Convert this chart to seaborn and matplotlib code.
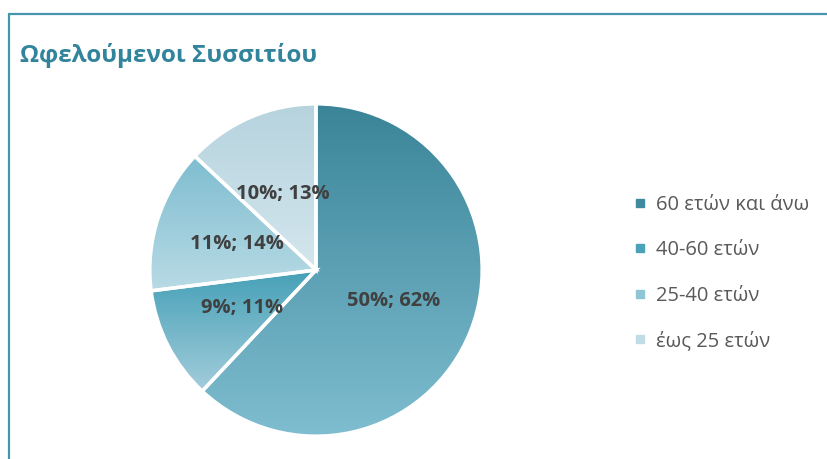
import numpy as np
import matplotlib
matplotlib.use("Agg")
import matplotlib.pyplot as plt
from matplotlib.colors import LinearSegmentedColormap
from matplotlib.lines import Line2D
import seaborn as sns

# data
categories = ["60 ετών και άνω", "40-60 ετών", "25-40 ετών", "έως 25 ετών"]
shares = [62, 11, 14, 13]          # slice share (second number in label)
first_pct = [50, 9, 11, 10]        # first number in label
title = "Ωφελούμενοι Συσσιτίου"

# top / bottom colours of each slice gradient
grad_top = ["#3a8498", "#45a0b7", "#7ebdd0", "#b6d3de"]
grad_bottom = ["#7fbdd0", "#a3cddb", "#b9dbe5", "#d3e6ed"]
legend_colors = ["#3f8a9e", "#4aa2b9", "#8fc6d6", "#c2dce6"]

sns.set_theme(style="white")
plt.rcParams["font.family"] = ["Open Sans", "DejaVu Sans"]

fig = plt.figure(figsize=(8.27, 4.59), dpi=100)
W, H = 827, 459

# pie axes: centre (316, 270), radius ~166 px
cx, cy, r = 316, 270, 167
ax = fig.add_axes([(cx - r) / W, (H - cy - r) / H, 2 * r / W, 2 * r / H])

wedges, _, autotexts = ax.pie(
    shares, startangle=90, counterclock=False, autopct="", pctdistance=0.5,
    wedgeprops=dict(edgecolor="white", linewidth=2.5),
)

# vertical gradient inside each wedge
grad = np.linspace(0, 1, 256).reshape(-1, 1)
for w, top, bot in zip(wedges, grad_top, grad_bottom):
    w.set_facecolor("none")
    ext = w.get_path().get_extents()
    cmap = LinearSegmentedColormap.from_list("g", [bot, top])
    im = ax.imshow(grad, cmap=cmap, origin="lower", aspect="auto",
                   extent=[ext.x0, ext.x1, ext.y0, ext.y1], zorder=0.5)
    im.set_clip_path(w)
    w.set_zorder(1)
ax.set_xlim(-1.005, 1.005)
ax.set_ylim(-1.005, 1.005)
ax.set_aspect("equal")
ax.axis("off")

for t, a, b in zip(autotexts, first_pct, shares):
    t.set_text(f"{a}%; {b}%")
    t.set_fontsize(14.5)
    t.set_fontweight("bold")
    t.set_color("#404040")
    t.set_zorder(3)

# legend
handles = [Line2D([], [], marker="s", linestyle="", markersize=6,
                  markerfacecolor=c, markeredgecolor=c) for c in legend_colors]
fig.legend(handles, categories, loc="center left",
           bbox_to_anchor=(624 / W, 1 - 273 / H), frameon=False,
           fontsize=14.5, labelcolor="#595959", handlelength=0.8,
           handletextpad=0.4, labelspacing=1.25, borderaxespad=0)

# title
fig.text(20 / W, 1 - 56 / H, title, fontsize=17.5, fontweight="bold",
         color="#31849b", ha="left", va="center")

# frame (top and left edges)
frame_color = "#4596ab"
fig.add_artist(Line2D([8.5 / W, 1], [1 - 13.5 / H, 1 - 13.5 / H],
                      transform=fig.transFigure, color=frame_color, lw=1.6))
fig.add_artist(Line2D([8.5 / W, 8.5 / W], [0, 1 - 13.5 / H],
                      transform=fig.transFigure, color=frame_color, lw=1.6))

fig.savefig("out.png", dpi=100)
